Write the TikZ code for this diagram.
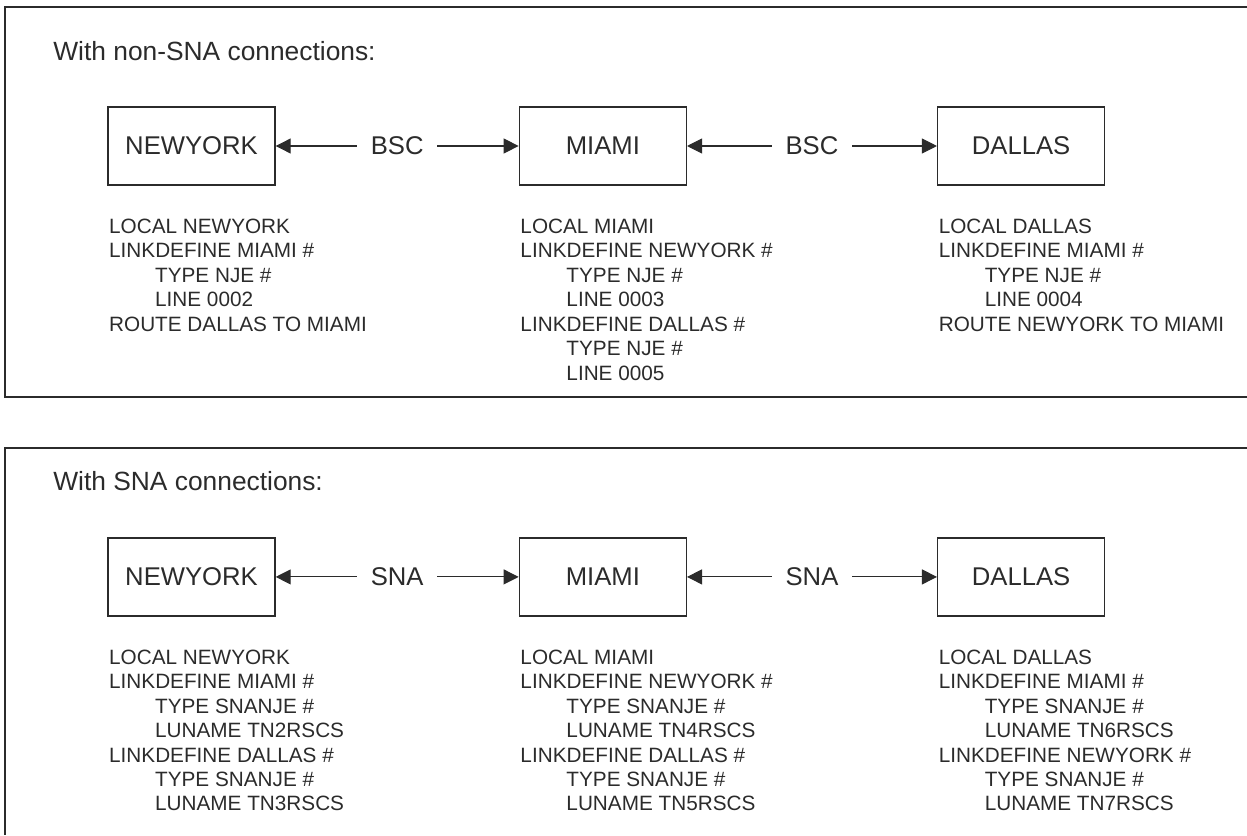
\documentclass[tikz,border=0pt]{standalone}
\usepackage{fontspec}
\setmainfont{Liberation Sans}
\usetikzlibrary{arrows.meta,positioning,calc}
\definecolor{ink}{HTML}{2B2B2B}
\newcommand{\cfgind}{\hspace*{0.92cm}}

\begin{document}
\begin{tikzpicture}[
  x=0.02cm, y=-0.02cm,
  node distance=4.86cm,
  every node/.style={text=ink},
  frame/.style={draw=ink, line width=1pt},
  title/.style={anchor=base west, inner sep=0pt, font=\fontsize{15}{18}\selectfont},
  host/.style={draw=ink, line width=0.8pt, minimum width=3.34cm,
    minimum height=1.56cm, font=\fontsize{14.6}{17}\selectfont},
  link/.style={inner xsep=0.27cm, inner ysep=0pt, font=\fontsize{14.6}{17}\selectfont},
  cfg/.style={anchor=north west, align=left, inner sep=0pt,
    font=\fontsize{11.8}{13.9}\selectfont},
  arrow/.style={-{Triangle[length=0.3cm, width=0.3cm]}, draw=ink, line width=0.6pt}
]
\useasboundingbox (0,0) rectangle (1247,835);

% non-SNA
\draw[frame] (1247,7) -| (5,397) -- (1247,397);
\node[title] (t1) at (53,60) {With non-SNA connections:};
\node[host] (ny) at (191.5,146) {NEWYORK};
\node[host, right=of ny] (mia) {MIAMI};
\node[host, right=5cm of mia] (dal) {DALLAS};
\node[link] (bsc1) at ($(ny)!0.5!(mia)$) {BSC};
\node[link] (bsc2) at ($(mia)!0.5!(dal)$) {BSC};
\draw[arrow] (bsc1) -- (ny);
\draw[arrow] (bsc1) -- (mia);
\draw[arrow] (bsc2) -- (mia);
\draw[arrow] (bsc2) -- (dal);
\node[cfg] (nycfg) at ([xshift=0.03cm, yshift=-0.66cm]ny.south west)
  {LOCAL NEWYORK\\LINKDEFINE MIAMI \#\\\cfgind TYPE NJE \#\\\cfgind LINE 0002\\
   ROUTE DALLAS TO MIAMI};
\node[cfg] (miacfg) at ([xshift=0.03cm, yshift=-0.66cm]mia.south west)
  {LOCAL MIAMI\\LINKDEFINE NEWYORK \#\\\cfgind TYPE NJE \#\\\cfgind LINE 0003\\
   LINKDEFINE DALLAS \#\\\cfgind TYPE NJE \#\\\cfgind LINE 0005};
\node[cfg] (dalcfg) at ([xshift=0.03cm, yshift=-0.66cm]dal.south west)
  {LOCAL DALLAS\\LINKDEFINE MIAMI \#\\\cfgind TYPE NJE \#\\\cfgind LINE 0004\\
   ROUTE NEWYORK TO MIAMI};

% SNA
\draw[frame] (1247,448) -| (5,835);
\begin{scope}[yshift=-8.62cm]
\node[title] (t2) at (53,60) {With SNA connections:};
\node[host] (ny2) at (191.5,146) {NEWYORK};
\node[host, right=of ny2] (mia2) {MIAMI};
\node[host, right=5cm of mia2] (dal2) {DALLAS};
\node[link] (sna1) at ($(ny2)!0.5!(mia2)$) {SNA};
\node[link] (sna2) at ($(mia2)!0.5!(dal2)$) {SNA};
\draw[arrow] (sna1) -- (ny2);
\draw[arrow] (sna1) -- (mia2);
\draw[arrow] (sna2) -- (mia2);
\draw[arrow] (sna2) -- (dal2);
\node[cfg] (nycfg2) at ([xshift=0.03cm, yshift=-0.66cm]ny2.south west)
  {LOCAL NEWYORK\\LINKDEFINE MIAMI \#\\\cfgind TYPE SNANJE \#\\\cfgind LUNAME TN2RSCS\\
   LINKDEFINE DALLAS \#\\\cfgind TYPE SNANJE \#\\\cfgind LUNAME TN3RSCS};
\node[cfg] (miacfg2) at ([xshift=0.03cm, yshift=-0.66cm]mia2.south west)
  {LOCAL MIAMI\\LINKDEFINE NEWYORK \#\\\cfgind TYPE SNANJE \#\\\cfgind LUNAME TN4RSCS\\
   LINKDEFINE DALLAS \#\\\cfgind TYPE SNANJE \#\\\cfgind LUNAME TN5RSCS};
\node[cfg] (dalcfg2) at ([xshift=0.03cm, yshift=-0.66cm]dal2.south west)
  {LOCAL DALLAS\\LINKDEFINE MIAMI \#\\\cfgind TYPE SNANJE \#\\\cfgind LUNAME TN6RSCS\\
   LINKDEFINE NEWYORK \#\\\cfgind TYPE SNANJE \#\\\cfgind LUNAME TN7RSCS};
\end{scope}
\end{tikzpicture}
\end{document}
